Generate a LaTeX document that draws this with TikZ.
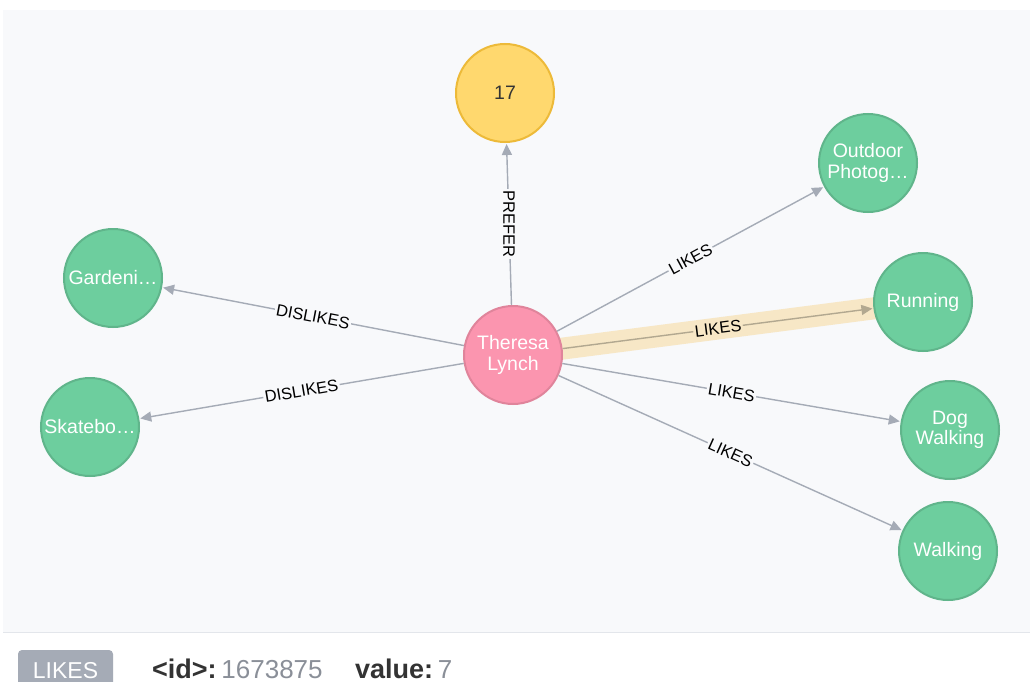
\documentclass[tikz,border=0pt]{standalone}
\usepackage{fontspec}
\setmainfont{Liberation Sans}
\usetikzlibrary{arrows.meta}

\definecolor{panelbg}{HTML}{F8F9FB}
\definecolor{sepline}{HTML}{E3E6EB}
\definecolor{relgray}{HTML}{A5ABB6}
\definecolor{greenfill}{HTML}{6DCE9E}
\definecolor{greenline}{HTML}{60B58B}
\definecolor{pinkfill}{HTML}{FB95AF}
\definecolor{pinkline}{HTML}{E0849B}
\definecolor{yellowfill}{HTML}{FFD86E}
\definecolor{yellowline}{HTML}{EDBA39}
\definecolor{halo}{HTML}{F7E7C6}
\definecolor{selrel}{HTML}{B2A890}
\definecolor{keytext}{HTML}{333333}
\definecolor{valtext}{HTML}{8A8F98}

\pgfdeclarelayer{bg}
\pgfsetlayers{bg,main}

\tikzset{
  entity/.style={circle, minimum size=98pt, inner sep=0pt, line width=2pt,
    align=center, text=white, font=\fontsize{19.5}{20.5}\selectfont},
  activity/.style={entity, fill=greenfill, draw=greenline},
  person/.style={entity, fill=pinkfill, draw=pinkline},
  number/.style={entity, fill=yellowfill, draw=yellowline, text=black!80},
  rel/.style={draw=relgray, line width=1.4pt,
    -{Triangle[length=11pt,width=10pt]}, shorten >=1pt},
  selected/.style={rel, draw=selrel},
  elabel/.style={font=\fontsize{16.5}{16.5}\selectfont, text=black,
    fill=panelbg, inner sep=1.5pt},
  badge/.style={fill=relgray, rounded corners=4pt},
  keyfont/.style={font=\fontsize{27}{27}\selectfont\bfseries, text=keytext,
    anchor=base west, inner sep=0pt},
  valfont/.style={font=\fontsize{26}{26}\selectfont, text=valtext,
    anchor=base west, inner sep=0pt},
}

\begin{document}
\begin{tikzpicture}[x=1pt,y=-1pt]
\useasboundingbox (0,0) rectangle (1030,682);

% canvas
\begin{pgfonlayer}{bg}
  \fill[white] (0,0) rectangle (1030,682);
  \fill[panelbg] (3,10) rectangle (1030,632);
  \draw[sepline, line width=1pt] (3,632.5) -- (1030,632.5);
\end{pgfonlayer}

% nodes
\node[number]   (n17)   at (505,93)  {17};
\node[person]   (tl)    at (513,355) {Theresa\\Lynch};
\node[activity] (photo) at (868,163) {Outdoor\\Photog…};
\node[activity] (run)   at (923,302) {Running};
\node[activity] (dog)   at (950,430) {Dog\\Walking};
\node[activity] (walk)  at (948,551) {Walking};
\node[activity] (gard)  at (113,278) {Gardeni…};
\node[activity] (skate) at (90,427)  {Skatebo…};

% selected relationship halo
\begin{pgfonlayer}{bg}
  \draw[halo, line width=22pt] (tl.center) -- (run.center);
\end{pgfonlayer}

% relationships
\draw[rel] (tl) -- (n17)
  node[midway, rotate=-90, elabel] {PREFER};
\draw[rel] (tl) -- (photo)
  node[midway, sloped, elabel] {LIKES};
\draw[selected] (tl) -- (run)
  node[midway, sloped, elabel, fill=halo] {LIKES};
\draw[rel] (tl) -- (dog)
  node[midway, sloped, elabel] {LIKES};
\draw[rel] (tl) -- (walk)
  node[midway, sloped, elabel] {LIKES};
\draw[rel] (tl) -- (gard)
  node[midway, sloped, elabel] {DISLIKES};
\draw[rel] (tl) -- (skate)
  node[midway, sloped, elabel] {DISLIKES};

% property bar of the selected relationship
\fill[badge] (18,650) rectangle (113,695);
\node[font=\fontsize{23}{23}\selectfont, text=white, anchor=base,
  inner sep=0pt] (btype) at (65.5,678) {LIKES};
\node[keyfont] (kid)  at (152,678) {<id>:};
\node[valfont] (vid)  at (kid.base east) {\,1673875};
\node[keyfont] (kval) at (355,678) {value:};
\node[valfont] (vval) at (kval.base east) {\,7};
\end{tikzpicture}
\end{document}
